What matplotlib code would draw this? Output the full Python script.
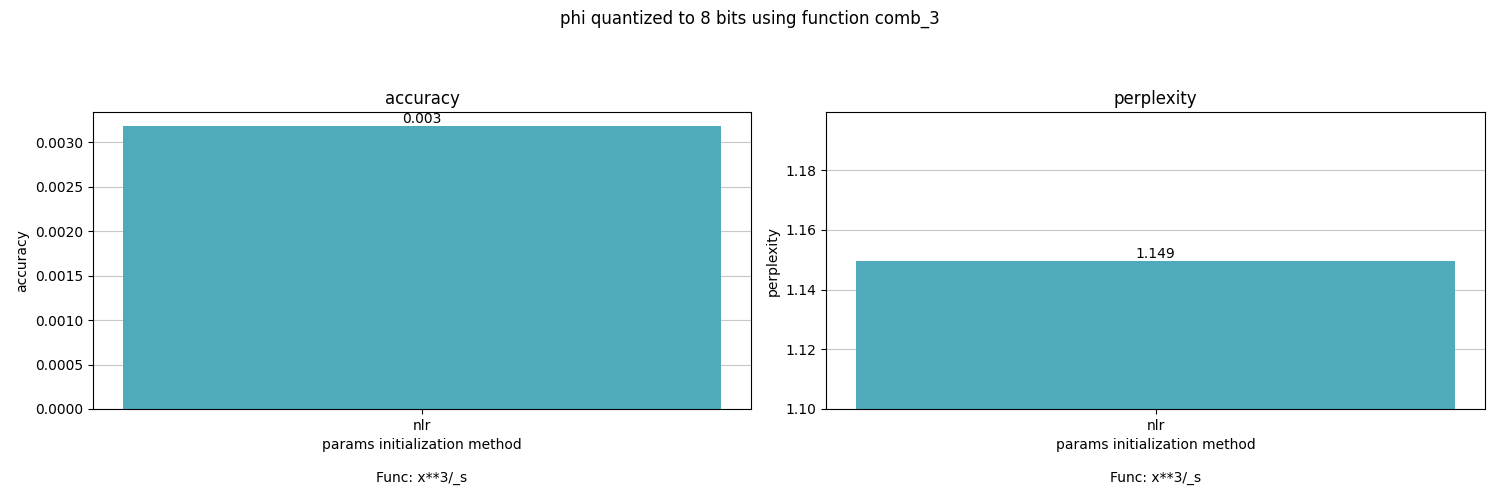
import matplotlib
matplotlib.use("Agg")
import matplotlib.pyplot as plt

categories = ["nlr"]
accuracy = [0.00318]
perplexity = [1.1495]
bar_color = "#4fabbc"

fig = plt.figure(figsize=(15, 5), dpi=100)
ax1 = fig.add_axes([0.062, 0.182, 0.4387, 0.594])
ax2 = fig.add_axes([0.5507, 0.182, 0.4393, 0.594])

def draw(ax, vals, name, ylim):
    ax.set_axisbelow(True)
    ax.grid(axis="y", color="#c8c8c8", linewidth=0.8)
    bars = ax.bar(categories, vals, width=0.8, color=bar_color)
    ax.set_xlim(-0.44, 0.44)
    if ylim is not None:
        ax.set_ylim(*ylim)
    else:
        ax.set_ylim(0, max(vals) * 1.05)
    for b, v in zip(bars, vals):
        ax.annotate(f"{v:.3f}", (b.get_x() + b.get_width() / 2, b.get_height()),
                    ha="center", va="bottom", fontsize=10)
    ax.set_title(name, fontsize=12)
    ax.set_ylabel(name)
    ax.set_xlabel("params initialization method\n\nFunc: x**3/_s")

draw(ax1, accuracy, "accuracy", None)
draw(ax2, perplexity, "perplexity", (1.10, 1.1995))
ax1.yaxis.set_major_formatter(matplotlib.ticker.FormatStrFormatter("%.4f"))
ax2.yaxis.set_major_formatter(matplotlib.ticker.FormatStrFormatter("%.2f"))

fig.suptitle("phi quantized to 8 bits using function comb_3", y=0.98, fontsize=12)
fig.savefig("out.png")
